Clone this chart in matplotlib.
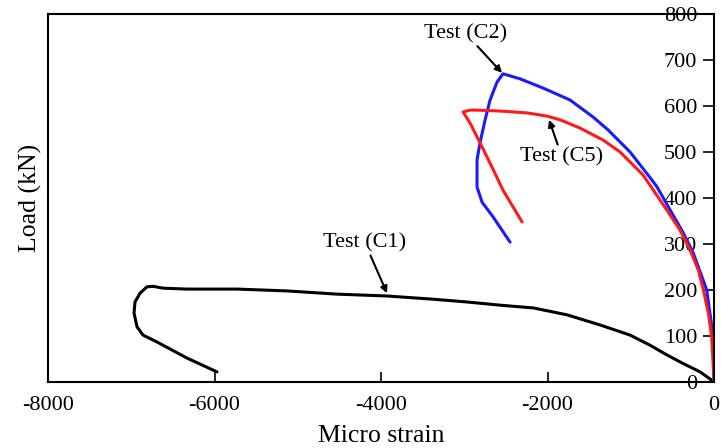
import numpy as np
import matplotlib.pyplot as plt

plt.rcParams['font.family'] = ['Liberation Serif', 'DejaVu Serif']
plt.rcParams['axes.unicode_minus'] = False

# Load vs micro strain readings for the three column tests
c1_strain = [0, -28, -168, -369, -568, -769, -889, -1009, -1369, -1766, -2170, -2570,
             -2970, -3375, -3772, -3928, -4529, -5129, -5730, -6330, -6619, -6739,
             -6811, -6895, -6955, -6967, -6931, -6859, -6691, -6330, -5970]
c1_load = [0, 4, 22, 40, 59, 80, 91, 102, 124, 146, 161, 167,
           174, 180, 185, 187, 191, 198, 202, 202, 204, 208,
           207, 193, 174, 150, 120, 102, 87, 52, 22]

c2_strain = [0, -12, -88, -249, -369, -528, -688, -793, -1009, -1273, -1453, -1730,
             -2054, -2330, -2535, -2607, -2690, -2750, -2811, -2847, -2847, -2787,
             -2655, -2450]
c2_load = [0, 100, 200, 280, 324, 374, 425, 450, 500, 548, 576, 613,
           639, 659, 670, 652, 613, 570, 520, 483, 424, 391,
           359, 304]

c5_strain = [0, -28, -68, -128, -188, -288, -408, -568, -729, -853, -1129, -1333,
             -1610, -1850, -2006, -2246, -2570, -2847, -2931, -3015, -2931, -2811,
             -2667, -2535, -2306]
c5_load = [0, 98, 149, 200, 243, 287, 330, 374, 417, 450, 500, 526,
           552, 570, 578, 585, 589, 591, 591, 587, 563, 520,
           467, 417, 348]

x_ticks = [-8000, -6000, -4000, -2000, 0]
y_ticks = [0, 100, 200, 300, 400, 500, 600, 700, 800]

fig = plt.figure(figsize=(7.22, 4.48), dpi=100)
ax = fig.add_axes([0.0665, 0.1473, 0.9225, 0.8215])

line_kw = dict(lw=2.2, solid_joinstyle='round', solid_capstyle='round')
ax.plot(c1_strain, c1_load, color='black', **line_kw)
ax.plot(c2_strain, c2_load, color='#1a1aff', **line_kw)
ax.plot(c5_strain, c5_load, color='#ff1a1a', **line_kw)

arrow = dict(arrowstyle='-|>', color='black', lw=1.5, mutation_scale=10, shrinkA=0, shrinkB=0)
ax.annotate('Test (C2)', xy=(-2547, 672), xytext=(-2980, 757), fontsize=16,
            ha='center', va='center', arrowprops=arrow)
ax.annotate('Test (C5)', xy=(-1982, 570), xytext=(-1826, 489), fontsize=16,
            ha='center', va='center', arrowprops=arrow)
ax.annotate('Test (C1)', xy=(-3928, 193), xytext=(-4192, 302), fontsize=16,
            ha='center', va='center', arrowprops=arrow)

ax.set_xlim(-8000, 0)
ax.set_ylim(0, 800)
ax.set_xticks(x_ticks)
ax.set_yticks(y_ticks)

ax.yaxis.tick_right()
ax.tick_params(axis='x', direction='in', length=7, width=1.2, labelsize=16, pad=10)
ax.tick_params(axis='y', direction='in', length=8, width=1.2, labelsize=16, pad=-12.2)
for lbl in ax.get_yticklabels():
    lbl.set_horizontalalignment('right')

for s in ax.spines.values():
    s.set_linewidth(1.5)

ax.set_xlabel('Micro strain', fontsize=18.5, labelpad=7)
ax.set_ylabel('Load (kN)', fontsize=18.5)
ax.yaxis.set_label_position('left')

fig.savefig('out.png', dpi=100)
